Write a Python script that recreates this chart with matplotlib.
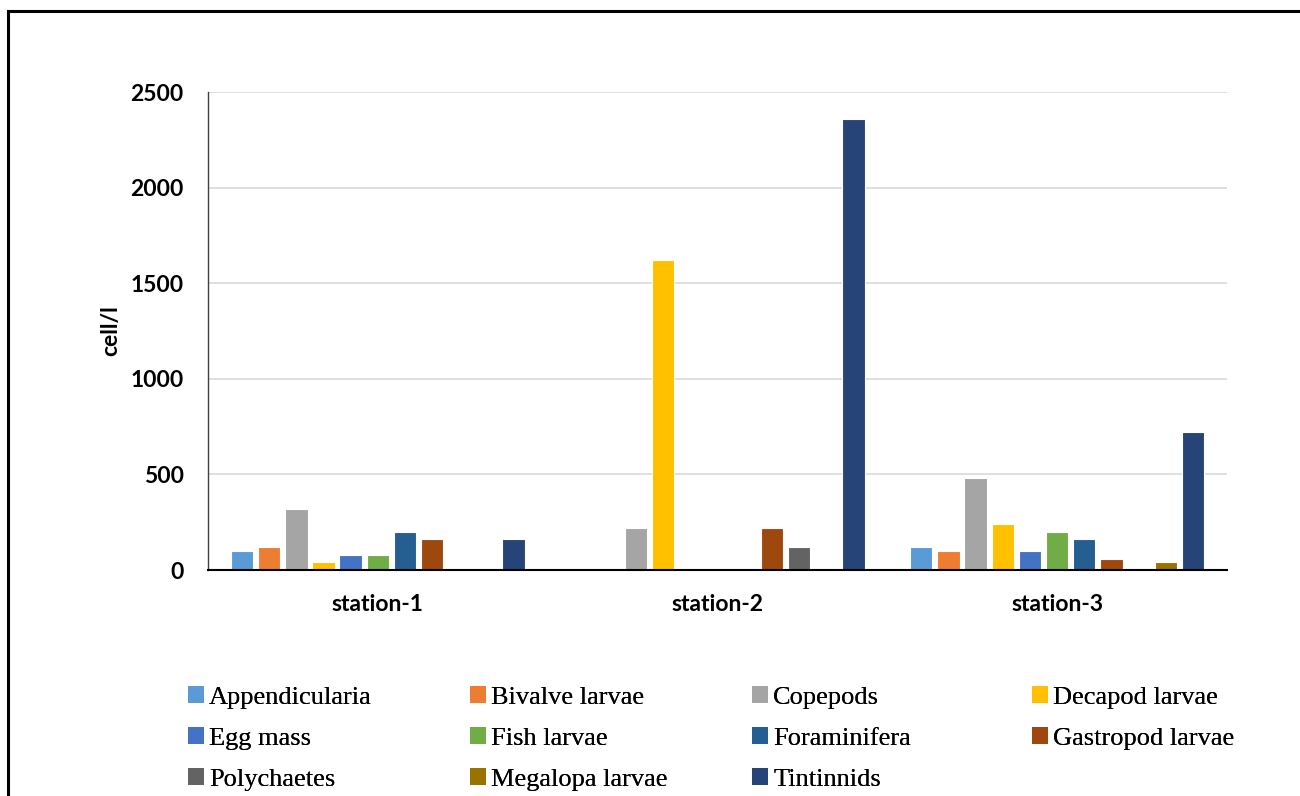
import numpy as np
import matplotlib
matplotlib.use("Agg")
from matplotlib import pyplot as plt
from matplotlib.lines import Line2D

stations = ["station-1", "station-2", "station-3"]
taxa = ["Appendicularia", "Bivalve larvae", "Copepods", "Decapod larvae",
        "Egg mass", "Fish larvae", "Foraminifera", "Gastropod larvae",
        "Polychaetes", "Megalopa larvae", "Tintinnids"]
colors = ["#5B9BD5", "#ED7D31", "#A5A5A5", "#FFC000", "#4472C4", "#70AD47",
          "#255E91", "#9E480E", "#636363", "#997300", "#264478"]

# cell/l per taxon at each station
appendicularia = [100, 0, 120]
bivalve = [120, 0, 100]
copepods = [320, 220, 480]
decapod = [40, 1620, 240]
egg_mass = [80, 0, 100]
fish = [80, 0, 200]
foraminifera = [200, 0, 160]
gastropod = [160, 220, 60]
polychaetes = [0, 120, 0]
megalopa = [0, 0, 40]
tintinnids = [160, 2360, 720]

series = [appendicularia, bivalve, copepods, decapod, egg_mass, fish,
          foraminifera, gastropod, polychaetes, megalopa, tintinnids]

fig = plt.figure(figsize=(13, 7.96), dpi=100)
ax = fig.add_axes([0.16, 0.2839, 0.7838, 0.6005])

x = np.arange(len(stations))
step = 0.08
for i, vals in enumerate(series):
    ax.bar(x + (i - 5) * step, vals, width=0.066, color=colors[i],
           edgecolor="white", linewidth=0.8, zorder=3, label=taxa[i])

ax.set_xlim(-0.5, 2.5)
ax.set_ylim(0, 2500)
ax.set_yticks(np.arange(0, 2501, 500))
ax.set_xticks(x)
ax.set_xticklabels(stations)
ax.yaxis.grid(True, color="#d9d9d9", linewidth=1.2, zorder=0)
ax.tick_params(length=0)
ax.tick_params(axis="y", pad=17.5)
ax.tick_params(axis="x", pad=17)
for lab in ax.get_xticklabels() + ax.get_yticklabels():
    lab.set_fontfamily("Lato")
    lab.set_fontweight("bold")
    lab.set_fontsize(16.5)

for s in ["top", "right"]:
    ax.spines[s].set_visible(False)
ax.spines["left"].set_color("#404040")
ax.spines["left"].set_linewidth(1)
ax.spines["bottom"].set_color("black")
ax.spines["bottom"].set_linewidth(1.5)
ax.spines["bottom"].set_zorder(4)

ax.set_ylabel("cell/l", fontfamily="Lato", fontweight="bold", fontsize=16.5)
ax.yaxis.set_label_coords(-0.085, 0.5)

# legend laid out in four evenly spaced columns
col_x = [0.1446, 0.3615, 0.5785, 0.7938]
for c in range(4):
    idx = list(range(c, len(taxa), 4))
    handles = [plt.Rectangle((0, 0), 1, 1, facecolor=colors[i], edgecolor="none")
               for i in idx]
    leg = fig.legend(handles, [taxa[i] for i in idx], loc="upper left",
                     bbox_to_anchor=(col_x[c], 0.138), frameon=False,
                     handlelength=0.6, handleheight=0.6, handletextpad=0.2,
                     labelspacing=0.70, borderaxespad=0, borderpad=0,
                     prop={"family": "Liberation Serif", "size": 19})
    fig.add_artist(leg)

# outer frame (left and top edges)
fig.add_artist(Line2D([8 / 1300, 8 / 1300], [0, 1 - 11 / 796], color="black",
                      linewidth=2.2, transform=fig.transFigure))
fig.add_artist(Line2D([8 / 1300, 1], [1 - 11 / 796, 1 - 11 / 796], color="black",
                      linewidth=2.2, transform=fig.transFigure))

fig.savefig("out.png", dpi=100)
